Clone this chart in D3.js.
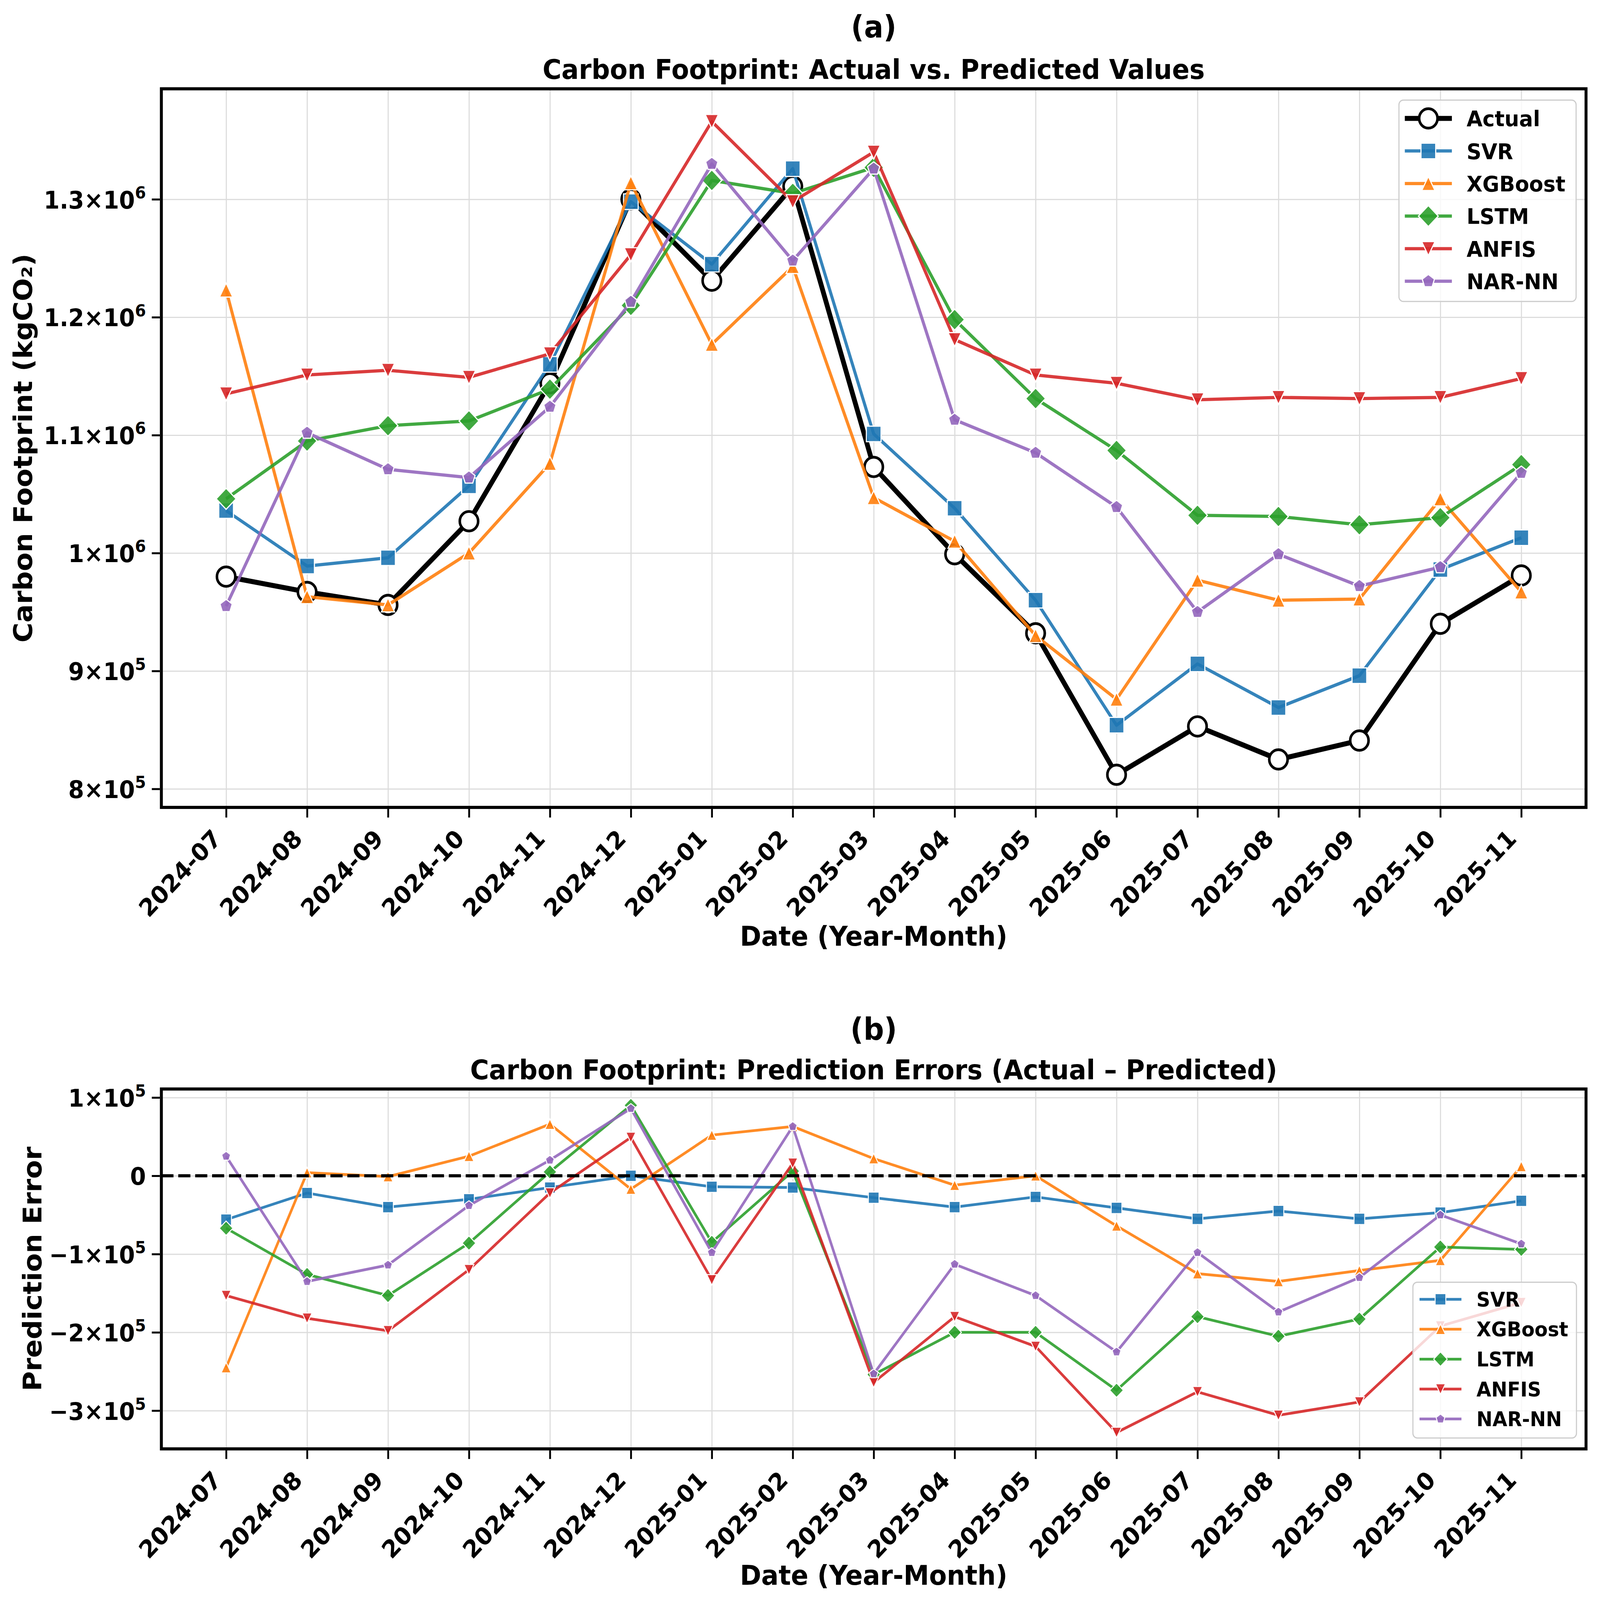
<!DOCTYPE html>
<html lang="en">
<head>
<meta charset="UTF-8">
<title>Carbon Footprint: Actual vs. Predicted</title>
<script src="https://cdnjs.cloudflare.com/ajax/libs/d3/7.8.5/d3.min.js"></script>
<style>
  html, body { margin: 0; padding: 0; width: 100%; height: 100%; overflow: hidden; background: #fff; }
  #chart { width: 100vw; height: 100vh; }
  #chart svg { display: block; width: 100%; height: 100%; }
  svg text { font-family: 'DejaVu Sans', sans-serif; font-weight: bold; fill: #000; }
</style>
</head>
<body>
<div id="chart"></div>
<script>
// ---- data ----
const months = ['2024-07', '2024-08', '2024-09', '2024-10', '2024-11', '2024-12',
  '2025-01', '2025-02', '2025-03', '2025-04', '2025-05', '2025-06',
  '2025-07', '2025-08', '2025-09', '2025-10', '2025-11'];

const actual = [980000, 967000, 956000, 1027000, 1144000, 1300000, 1231000, 1311000, 1073000,
  999000, 932000, 812000, 853000, 825000, 841000, 940000, 981000];
const svrPred = [1036000, 989000, 996000, 1057000, 1160000, 1298000, 1245000, 1326000, 1101000,
  1038000, 960000, 854000, 906000, 869000, 896000, 986000, 1013000];
const xgbPred = [1223000, 963000, 956000, 1000000, 1076000, 1314000, 1177000, 1243000, 1047000,
  1010000, 930000, 876000, 977000, 960000, 961000, 1046000, 967000];
const lstmPred = [1046000, 1095000, 1108000, 1112000, 1139000, 1210000, 1316000, 1305000, 1327000,
  1198000, 1131000, 1087000, 1032000, 1031000, 1024000, 1030000, 1075000];
const anfisPred = [1135000, 1151000, 1155000, 1149000, 1169000, 1253000, 1366000, 1298000, 1340000,
  1181000, 1151000, 1144000, 1130000, 1132000, 1131000, 1132000, 1148000];
const narPred = [955000, 1102000, 1071000, 1064000, 1124000, 1213000, 1330000, 1248000, 1326000,
  1113000, 1085000, 1039000, 950000, 999000, 972000, 988000, 1068000];

const svrErr = [-56000, -22000, -40000, -30000, -15000, 0, -14000, -15000, -28000,
  -40000, -27000, -41000, -55000, -45000, -55000, -47000, -32000];
const xgbErr = [-245000, 4000, -1000, 25000, 66000, -17000, 52000, 63000, 22000,
  -12000, 0, -64000, -125000, -135000, -121000, -108000, 12000];
const lstmErr = [-67000, -126000, -153000, -86000, 5000, 90000, -85000, 6000, -254000,
  -200000, -200000, -274000, -180000, -205000, -183000, -91000, -94000];
const anfisErr = [-153000, -182000, -198000, -120000, -22000, 49000, -133000, 16000, -264000,
  -180000, -218000, -328000, -276000, -306000, -289000, -192000, -162000];
const narErr = [25000, -135000, -114000, -38000, 20000, 86000, -98000, 63000, -253000,
  -113000, -153000, -225000, -98000, -174000, -130000, -50000, -87000];

const topTicks = [800000, 900000, 1000000, 1100000, 1200000, 1300000];
const bottomTicks = [-300000, -200000, -100000, 0, 100000];

const modelNames = ['SVR', 'XGBoost', 'LSTM', 'ANFIS', 'NAR-NN'];

// ---- styling ----
const colors = ['#1f77b4', '#ff7f0e', '#2ca02c', '#d62728', '#9467bd'];
const shapes = ['square', 'triUp', 'diamond', 'triDown', 'pentagon'];
const FONT = "'DejaVu Sans', sans-serif";

// drawn in a fixed 4353x4108 coordinate system, stretched to whatever the viewport is
const W = 4353, H = 4108;
const svg = d3.select('#chart').append('svg')
  .attr('viewBox', `0 0 ${W} ${H}`)
  .attr('preserveAspectRatio', 'none');
svg.append('rect').attr('width', W).attr('height', H).attr('fill', '#fff');

function markerPath(shape, s) {
  const h = s / 2;
  switch (shape) {
    case 'circle': return d3.symbol(d3.symbolCircle, Math.PI * h * h)();
    case 'square': return `M${-h},${-h}H${h}V${h}H${-h}Z`;
    case 'triUp': return `M0,${-h}L${h},${h}L${-h},${h}Z`;
    case 'triDown': return `M0,${h}L${h},${-h}L${-h},${-h}Z`;
    case 'diamond': return `M0,${-h}L${h},0L0,${h}L${-h},0Z`;
    case 'pentagon': {
      const pts = d3.range(5).map(i => {
        const a = -Math.PI / 2 + i * 2 * Math.PI / 5;
        return [h * Math.cos(a), h * Math.sin(a)];
      });
      return 'M' + pts.map(p => p.join(',')).join('L') + 'Z';
    }
  }
}

function padded(arrs) {
  const lo = d3.min(arrs, a => d3.min(a));
  const hi = d3.max(arrs, a => d3.max(a));
  const m = (hi - lo) * 0.05;
  return [lo - m, hi + m];
}

function sciLabel(text, v) {
  text.text(null);
  if (v === 0) { text.text('0'); return; }
  const e = Math.floor(Math.log10(Math.abs(v)) + 1e-9);
  const m = Math.round(Math.abs(v) / Math.pow(10, e) * 10) / 10;
  const sign = v < 0 ? '\u2212' : '';
  text.append('tspan').text(sign + m + '\u00d710');
  text.append('tspan').attr('dy', -26).attr('font-size', 43).text(e);
}

function drawPanel(p) {
  const g = svg.append('g');
  const x = d3.scalePoint().domain(months).range([p.left, p.right]).padding(0.8);
  const y = d3.scaleLinear().domain(padded(p.series.map(s => s.values))).range([p.bottom, p.top]);

  // grid
  g.append('g')
    .attr('transform', `translate(0,${p.bottom})`)
    .call(d3.axisBottom(x).tickSize(-(p.bottom - p.top)).tickFormat(''))
    .call(a => a.select('.domain').remove())
    .selectAll('line').attr('stroke', '#dcdcdc').attr('stroke-width', 3);
  g.append('g')
    .attr('transform', `translate(${p.left},0)`)
    .call(d3.axisLeft(y).tickValues(p.ticks).tickSize(-(p.right - p.left)).tickFormat(''))
    .call(a => a.select('.domain').remove())
    .selectAll('line').attr('stroke', '#dcdcdc').attr('stroke-width', 3);

  // series
  const line = d3.line().x((d, i) => x(months[i])).y(d => y(d));
  p.series.forEach(s => {
    const sg = g.append('g');
    sg.append('path').datum(s.values)
      .attr('d', line)
      .attr('fill', 'none')
      .attr('stroke', s.color)
      .attr('stroke-opacity', s.alpha)
      .attr('stroke-width', s.lw)
      .attr('stroke-linejoin', 'round');
    sg.selectAll('path.mk').data(s.values).enter().append('path')
      .attr('class', 'mk')
      .attr('transform', (d, i) => `translate(${x(months[i])},${y(d)})`)
      .attr('d', markerPath(s.shape, s.size))
      .attr('fill', s.fill)
      .attr('fill-opacity', s.alpha)
      .attr('stroke', s.edge)
      .attr('stroke-width', s.edgeW);
  });

  if (p.zeroLine) {
    g.append('line')
      .attr('x1', p.left).attr('x2', p.right)
      .attr('y1', y(0)).attr('y2', y(0))
      .attr('stroke', '#000').attr('stroke-width', 8)
      .attr('stroke-dasharray', '33,13');
  }

  // spines
  g.append('rect')
    .attr('x', p.left).attr('y', p.top)
    .attr('width', p.right - p.left).attr('height', p.bottom - p.top)
    .attr('fill', 'none').attr('stroke', '#000').attr('stroke-width', 8);

  // y axis
  const ya = g.append('g')
    .attr('transform', `translate(${p.left - 4},0)`)
    .call(d3.axisLeft(y).tickValues(p.ticks).tickSize(22).tickPadding(16))
    .attr('font-size', 62).attr('font-family', FONT);
  ya.select('.domain').remove();
  ya.selectAll('.tick line').attr('stroke-width', 5);
  ya.selectAll('.tick text').attr('dy', 23).each(function (d) { sciLabel(d3.select(this), d); });

  // x axis
  const xa = g.append('g')
    .attr('transform', `translate(0,${p.bottom + 4})`)
    .call(d3.axisBottom(x).tickSize(22))
    .attr('font-size', 62).attr('font-family', FONT);
  xa.select('.domain').remove();
  xa.selectAll('.tick line').attr('stroke-width', 5);
  xa.selectAll('.tick text')
    .attr('y', 0).attr('dy', null)
    .attr('text-anchor', 'end')
    .attr('transform', 'translate(-10,80) rotate(-45)');

  // titles and labels
  const cx = (p.left + p.right) / 2;
  svg.append('text').attr('x', cx).attr('y', p.panelY)
    .attr('text-anchor', 'middle').attr('font-size', 78).text(p.panel);
  svg.append('text').attr('x', cx).attr('y', p.top - 25)
    .attr('text-anchor', 'middle').attr('font-size', 70).text(p.title);
  svg.append('text').attr('x', cx).attr('y', p.xLabelY)
    .attr('text-anchor', 'middle').attr('font-size', 70).text('Date (Year-Month)');
  svg.append('text')
    .attr('transform', `translate(${p.yLabelX},${(p.top + p.bottom) / 2}) rotate(-90)`)
    .attr('text-anchor', 'middle').attr('font-size', 70).text(p.yLabel);

  // legend
  const L = p.legend;
  const lg = svg.append('g');
  lg.append('rect')
    .attr('x', L.x0).attr('y', L.y0)
    .attr('width', L.x1 - L.x0).attr('height', L.y1 - L.y0)
    .attr('rx', 12).attr('ry', 12)
    .attr('fill', '#fff').attr('fill-opacity', 0.8)
    .attr('stroke', '#cccccc').attr('stroke-width', 3);
  p.series.forEach((s, i) => {
    const yy = L.row0 + i * L.step;
    lg.append('line')
      .attr('x1', L.hx0).attr('x2', L.hx1).attr('y1', yy).attr('y2', yy)
      .attr('stroke', s.color).attr('stroke-opacity', s.alpha).attr('stroke-width', s.lw);
    lg.append('path')
      .attr('transform', `translate(${(L.hx0 + L.hx1) / 2},${yy})`)
      .attr('d', markerPath(s.shape, s.size))
      .attr('fill', s.fill).attr('fill-opacity', s.alpha)
      .attr('stroke', s.edge).attr('stroke-width', s.edgeW);
    lg.append('text')
      .attr('x', L.tx).attr('y', yy).attr('dy', '0.36em')
      .attr('font-size', L.fs).text(s.name);
  });
}

const topSizes = { square: 40, triUp: 36, diamond: 54, triDown: 36, pentagon: 35 };
const botSizes = { square: 29, triUp: 27, diamond: 37, triDown: 27, pentagon: 25 };

const predArrays = [svrPred, xgbPred, lstmPred, anfisPred, narPred];
const errArrays = [svrErr, xgbErr, lstmErr, anfisErr, narErr];

const topSeries = [{
  name: 'Actual', values: actual, color: '#000', alpha: 1, lw: 13,
  shape: 'circle', size: 50, fill: '#fff', edge: '#000', edgeW: 7
}].concat(modelNames.map((n, i) => ({
  name: n, values: predArrays[i], color: colors[i], alpha: 0.9, lw: 8.3,
  shape: shapes[i], size: topSizes[shapes[i]], fill: colors[i], edge: '#fff', edgeW: 3
})));

const botSeries = modelNames.map((n, i) => ({
  name: n, values: errArrays[i], color: colors[i], alpha: 0.9, lw: 7,
  shape: shapes[i], size: botSizes[shapes[i]], fill: colors[i], edge: '#fff', edgeW: 2.5
}));

drawPanel({
  left: 439, right: 4315, top: 228, bottom: 2073,
  series: topSeries, ticks: topTicks,
  panel: '(a)', panelY: 96,
  title: 'Carbon Footprint: Actual vs. Predicted Values',
  yLabel: 'Carbon Footprint (kgCO\u2082)', yLabelX: 87, xLabelY: 2428,
  legend: { x0: 3806, x1: 4288, y0: 257, y1: 774, row0: 304, step: 83.6,
    hx0: 3822, hx1: 3950, tx: 3990, fs: 56 }
});

drawPanel({
  left: 439, right: 4315, top: 2796, bottom: 3720,
  series: botSeries, ticks: bottomTicks, zeroLine: true,
  panel: '(b)', panelY: 2670,
  title: 'Carbon Footprint: Prediction Errors (Actual \u2013 Predicted)',
  yLabel: 'Prediction Error', yLabelX: 113, xLabelY: 4069,
  legend: { x0: 3844, x1: 4289, y0: 3292, y1: 3692, row0: 3336, step: 76.8,
    hx0: 3862, hx1: 3976, tx: 4017, fs: 52 }
});
</script>
</body>
</html>
